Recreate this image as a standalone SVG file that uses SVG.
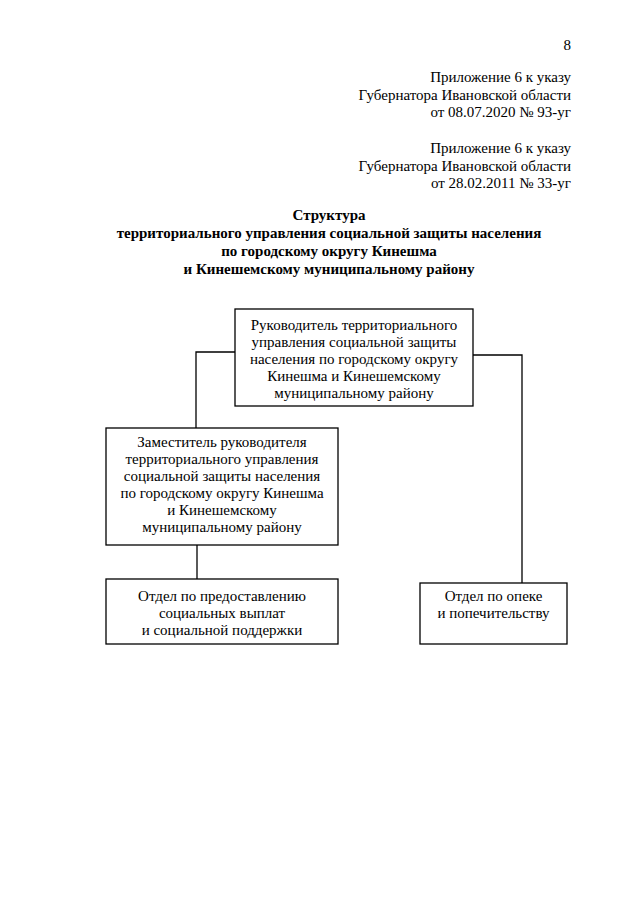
<svg xmlns="http://www.w3.org/2000/svg" width="640" height="905" viewBox="0 0 640 905">
<style>
text{font-family:'Liberation Serif','DejaVu Serif',serif;font-size:15px;fill:#000}
.r{text-anchor:end}
.c{text-anchor:middle}
.b{font-weight:bold}
.box{fill:#fff;stroke:#000;stroke-width:1.3}
.ln{fill:none;stroke:#000;stroke-width:1.3}
</style>
<rect width="640" height="905" fill="#fff"/>
<g id="header">
<text class="r" x="571" y="50">8</text>
<text class="r" x="571" y="82">Приложение 6 к указу</text>
<text class="r" x="571" y="99.5">Губернатора Ивановской области</text>
<text class="r" x="571" y="117">от 08.07.2020 № 93-уг</text>
<text class="r" x="571" y="153">Приложение 6 к указу</text>
<text class="r" x="571" y="170.5">Губернатора Ивановской области</text>
<text class="r" x="571" y="188">от 28.02.2011 № 33-уг</text>
</g>
<g id="title">
<text class="c b" x="329" y="220">Структура</text>
<text class="c b" x="329" y="238">территориального управления социальной защиты населения</text>
<text class="c b" x="329" y="256">по городскому округу Кинешма</text>
<text class="c b" x="329" y="274">и Кинешемскому муниципальному району</text>
</g>
<g id="connectors">
<polyline class="ln" points="235,352 196,352 196,428"/>
<polyline class="ln" points="473,355 522,355 522,583"/>
<line class="ln" x1="197" y1="545" x2="197" y2="579"/>
</g>
<g id="head">
<rect class="box" x="235" y="309" width="238" height="97"/>
<text class="c" x="354" y="330">Руководитель территориального</text>
<text class="c" x="354" y="347">управления социальной защиты</text>
<text class="c" x="354" y="364">населения по городскому округу</text>
<text class="c" x="354" y="381">Кинешма и Кинешемскому</text>
<text class="c" x="354" y="398">муниципальному району</text>
</g>
<g id="deputy">
<rect class="box" x="106" y="428" width="232" height="117"/>
<text class="c" x="222" y="447">Заместитель руководителя</text>
<text class="c" x="222" y="464">территориального управления</text>
<text class="c" x="222" y="481">социальной защиты населения</text>
<text class="c" x="222" y="498">по городскому округу Кинешма</text>
<text class="c" x="222" y="515">и Кинешемскому</text>
<text class="c" x="222" y="532">муниципальному району</text>
</g>
<g id="dept-payments">
<rect class="box" x="106" y="579" width="232" height="65"/>
<text class="c" x="222" y="601">Отдел по предоставлению</text>
<text class="c" x="222" y="618">социальных выплат</text>
<text class="c" x="222" y="635">и социальной поддержки</text>
</g>
<g id="dept-guardianship">
<rect class="box" x="420" y="583" width="147" height="61"/>
<text class="c" x="493.5" y="601">Отдел по опеке</text>
<text class="c" x="493.5" y="618">и попечительству</text>
</g>
</svg>
